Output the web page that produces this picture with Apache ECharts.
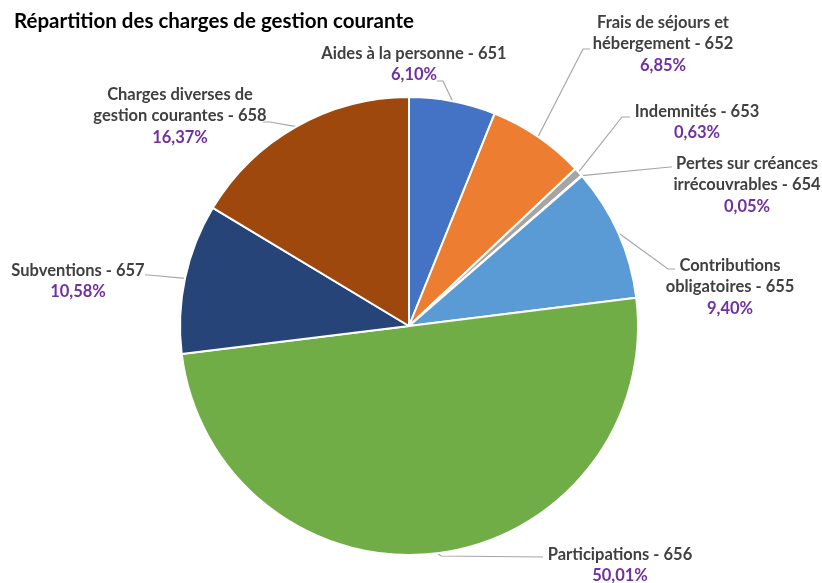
<!DOCTYPE html>
<html><head><meta charset="utf-8">
<script src="https://cdn.jsdelivr.net/npm/echarts@6/dist/echarts.min.js"></script>
<style>html,body{margin:0;padding:0;background:#fff}#c{width:822px;height:583px}</style>
</head><body><div id="c"></div>
<script>
const title = 'Répartition des charges de gestion courante';
const categories = [
  'Aides à la personne - 651',
  'Frais de séjours et\nhébergement - 652',
  'Indemnités - 653',
  'Pertes sur créances\nirrécouvrables - 654',
  'Contributions\nobligatoires - 655',
  'Participations - 656',
  'Subventions - 657',
  'Charges diverses de\ngestion courantes - 658'
];
const values = [6.10, 6.85, 0.63, 0.05, 9.40, 50.01, 10.58, 16.37];
const colors = ['#4472C4', '#ED7D31', '#A5A5A5', '#FFC000', '#5B9BD5', '#70AD47', '#264478', '#9E480E'];

// label placement (layout only): label block centre, then leader line bend & end
const labelPlace = [
  {x: 414, y: 64, line: [[443, 81], [437, 81]]},
  {x: 663, y: 44, line: [[583, 49], [590, 49]]},
  {x: 697, y: 122, line: [[622, 117], [630, 117]]},
  {x: 747, y: 185, line: [[670, 167], [672, 167]]},
  {x: 730, y: 287, line: [[668, 269], [675, 269]]},
  {x: 620, y: 565, line: [[441, 556], [543, 557]]},
  {x: 78, y: 281, line: [[149, 275], [145, 275]]},
  {x: 180, y: 116, line: [[270, 122], [263, 122]]}
];

const FONT = 'Lato';
const chart = echarts.init(document.getElementById('c'), null, {renderer: 'canvas'});
chart.setOption({
  animation: false,
  title: {
    text: title, left: 9, top: 6,
    textStyle: {fontFamily: FONT, fontWeight: 'bold', fontSize: 20.5, color: '#000'}
  },
  series: [{
    type: 'pie',
    center: [409, 326],
    radius: 229,
    startAngle: 90,
    clockwise: true,
    avoidLabelOverlap: false,
    color: colors,
    itemStyle: {borderColor: '#fff', borderWidth: 2},
    emphasis: {disabled: true},
    data: categories.map((c, i) => ({name: c, value: values[i]})),
    label: {
      show: true,
      position: 'outside',
      formatter: p => p.name.split('\n').map(s => '{n|' + s + '}').join('\n') +
        '\n{p|' + p.value.toFixed(2).replace('.', ',') + '%}',
      rich: {
        n: {fontFamily: FONT, fontWeight: 'bold', fontSize: 16.5, color: '#404040', lineHeight: 21.5, align: 'center'},
        p: {fontFamily: FONT, fontWeight: 'bold', fontSize: 16.5, color: '#7030A0', lineHeight: 21.5, align: 'center'}
      }
    },
    labelLine: {show: true, length: 10, length2: 10, lineStyle: {color: '#A6A6A6', width: 1.2}},
    labelLayout: params => {
      const lp = labelPlace[params.dataIndex];
      const start = params.labelLinePoints ? params.labelLinePoints[0] : null;
      const out = {x: lp.x, y: lp.y, align: 'center', verticalAlign: 'middle'};
      if (start) out.labelLinePoints = [start, lp.line[0], lp.line[1]];
      return out;
    }
  }]
});
</script></body></html>
